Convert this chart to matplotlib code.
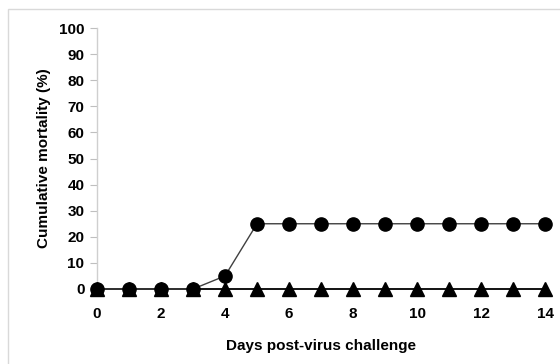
import matplotlib
matplotlib.use("Agg")
import matplotlib.pyplot as plt
from matplotlib.patches import Rectangle

days = list(range(0, 15))
mortality_infected = [0, 0, 0, 0, 5, 25, 25, 25, 25, 25, 25, 25, 25, 25, 25]
mortality_protected = [0] * 15
x_ticks = [0, 2, 4, 6, 8, 10, 12, 14]
y_ticks = list(range(0, 101, 10))

plt.rcParams['font.family'] = ['Liberation Sans', 'DejaVu Sans']

fig = plt.figure(figsize=(5.6, 3.64), dpi=100)
fig.patches.append(Rectangle((8 / 560, -0.05), 1.1, 1 - 9 / 364 + 0.05,
                             transform=fig.transFigure, fill=False,
                             edgecolor='#d9d9d9', linewidth=1.0))

ax = fig.add_axes([97 / 560, 1 - 289 / 364, 448 / 560, 261 / 364])

ax.plot(days, mortality_protected, color='black', linewidth=1.3,
        marker='^', markersize=9.5, markerfacecolor='black',
        markeredgecolor='black', clip_on=False, zorder=3)
ax.plot(days, mortality_infected, color='#404040', linewidth=1.0,
        marker='o', markersize=9.5, markerfacecolor='black',
        markeredgecolor='black', clip_on=False, zorder=4)

ax.set_xlim(0, 14)
ax.set_ylim(0, 100)
ax.set_xticks(x_ticks)
ax.set_yticks(y_ticks)
ax.tick_params(axis='x', length=0, pad=13, labelsize=11)
ax.tick_params(axis='y', length=5, color='#bfbfbf', pad=4, labelsize=11)
for lbl in ax.get_xticklabels() + ax.get_yticklabels():
    lbl.set_fontweight('bold')

for side in ['top', 'right', 'bottom']:
    ax.spines[side].set_visible(False)
ax.spines['left'].set_color('#cfcfcf')
ax.spines['left'].set_linewidth(1.0)

ax.set_xlabel('Days post-virus challenge', fontsize=11, fontweight='bold',
              labelpad=13)
ax.set_ylabel('Cumulative mortality (%)', fontsize=11, fontweight='bold',
              labelpad=6)

fig.savefig('out.png', dpi=100)
